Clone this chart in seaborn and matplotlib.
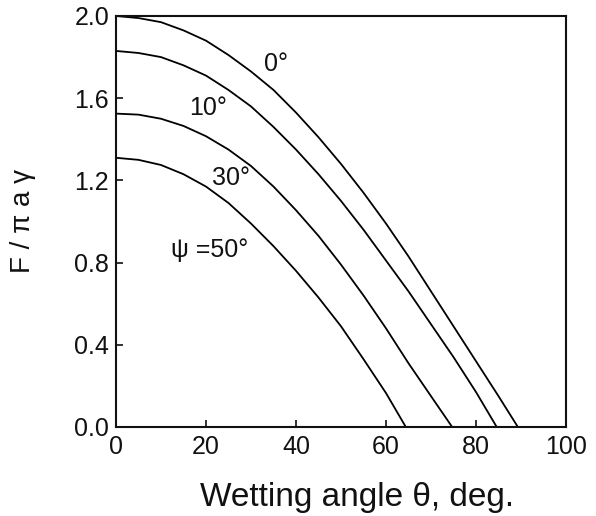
import numpy as np
import pandas as pd
import matplotlib
matplotlib.use("Agg")
import matplotlib.pyplot as plt
import seaborn as sns

# Data (wetting angle theta in degrees, F / pi a gamma)
theta_psi0 = [0, 5, 10, 15, 20, 25, 30, 35, 40, 45, 50, 55, 60, 65, 70, 75, 80, 85, 89.3]
force_psi0 = [2.00, 1.99, 1.97, 1.93, 1.88, 1.81, 1.73, 1.64, 1.53, 1.41, 1.28, 1.14, 0.99, 0.83, 0.66, 0.49, 0.32, 0.15, 0.0]

theta_psi10 = [0, 5, 10, 15, 20, 25, 30, 35, 40, 45, 50, 55, 60, 65, 70, 75, 80, 84.6]
force_psi10 = [1.83, 1.82, 1.80, 1.76, 1.71, 1.64, 1.56, 1.46, 1.35, 1.23, 1.10, 0.96, 0.81, 0.66, 0.50, 0.34, 0.17, 0.0]

theta_psi30 = [0, 5, 10, 15, 20, 25, 30, 35, 40, 45, 50, 55, 60, 65, 70, 74.7]
force_psi30 = [1.525, 1.52, 1.50, 1.465, 1.415, 1.35, 1.27, 1.17, 1.055, 0.93, 0.79, 0.64, 0.48, 0.31, 0.15, 0.0]

theta_psi50 = [0, 5, 10, 15, 20, 25, 30, 35, 40, 45, 50, 55, 60, 64.4]
force_psi50 = [1.31, 1.30, 1.275, 1.23, 1.17, 1.09, 0.99, 0.88, 0.76, 0.63, 0.49, 0.33, 0.165, 0.0]

psi_labels = ["0°", "10°", "30°", "ψ =50°"]
label_pos = [(35.6, 1.766), (20.4, 1.552), (25.6, 1.212), (20.9, 0.861)]

x_ticks = [0, 20, 40, 60, 80, 100]
y_ticks = [0.0, 0.4, 0.8, 1.2, 1.6, 2.0]

frames = []
for name, th, f in [("0", theta_psi0, force_psi0), ("10", theta_psi10, force_psi10),
                    ("30", theta_psi30, force_psi30), ("50", theta_psi50, force_psi50)]:
    frames.append(pd.DataFrame({"theta": th, "F": f, "psi": name}))
df = pd.concat(frames, ignore_index=True)

sns.set_style("ticks")
plt.rcParams["font.family"] = ["Liberation Sans", "DejaVu Sans"]

fig = plt.figure(figsize=(5.96, 5.16), dpi=100)
ax = fig.add_axes([0.1946, 0.1725, 0.7551, 0.7965])

sns.lineplot(data=df, x="theta", y="F", hue="psi", palette=["black"] * 4,
             legend=False, linewidth=1.3, ax=ax, sort=False, estimator=None)

for txt, (x, y) in zip(psi_labels, label_pos):
    ax.text(x, y, txt, fontsize=18, ha="center", va="center", color="#111111")

ax.set_xlim(0, 100)
ax.set_ylim(0, 2.0)
ax.set_xticks(x_ticks)
ax.set_yticks(y_ticks)
ax.set_xticklabels([str(t) for t in x_ticks])
ax.set_yticklabels([f"{t:.1f}" for t in y_ticks])
ax.tick_params(direction="in", length=5, width=1.2, labelsize=18, colors="#111111")
ax.tick_params(axis="y", pad=5)
ax.tick_params(axis="x", pad=6)

for sp in ax.spines.values():
    sp.set_visible(True)
    sp.set_linewidth(1.5)
    sp.set_color("#111111")

ax.set_xlabel("Wetting angle θ, deg.", fontsize=24, color="#111111")
ax.xaxis.set_label_coords(0.535, -0.133)
ax.set_ylabel("F / π a γ", fontsize=20, color="#111111")
ax.yaxis.set_label_coords(-0.178, 0.5)

fig.savefig("out.png", dpi=100, facecolor="white")
